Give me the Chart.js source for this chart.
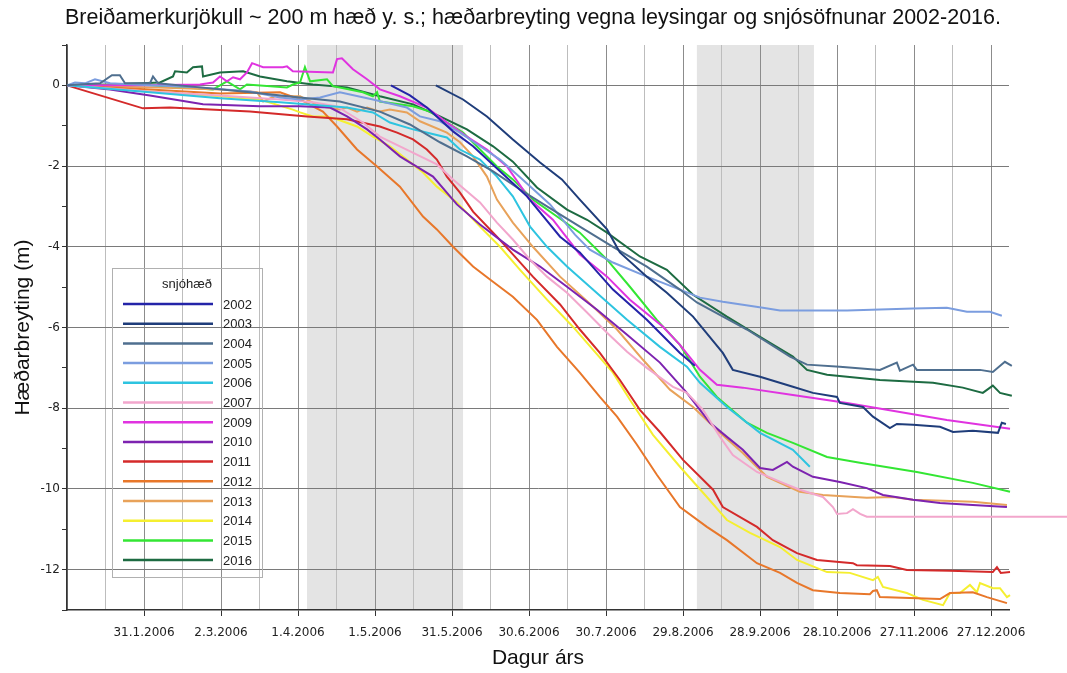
<!DOCTYPE html>
<html>
<head>
<meta charset="utf-8">
<script src="https://cdn.jsdelivr.net/npm/chart.js@4.4.1/dist/chart.umd.min.js"></script>
<style>
  html, body { margin: 0; padding: 0; background: #fff; }
</style>
</head>
<body>
<canvas id="c" width="1067" height="673"></canvas>
<script>
// Elevation change (m) at ~200 m a.s.l., day offset from 1 Jan (plotted on a 2006 calendar)
const years = ['2002', '2003', '2004', '2005', '2006', '2007', '2009', '2010', '2011', '2012', '2013', '2014', '2015', '2016'];
const colors = ['#2424a8', '#1f3d7a', '#4f6f8f', '#7b9ddf', '#2ec4e0', '#f2a6cc', '#e033e0',
                '#7d23b0', '#d42a2a', '#e8772a', '#e8a25a', '#f5ef30', '#33e633', '#1d6b42'];

const xTickLabels = ['31.1.2006', '2.3.2006', '1.4.2006', '1.5.2006', '31.5.2006', '30.6.2006',
                     '30.7.2006', '29.8.2006', '28.9.2006', '28.10.2006', '27.11.2006', '27.12.2006'];

// grey periods (day offsets)
const bandStart = [93.5, 245.4];
const bandEnd   = [154.3, 291.0];

// [day, metres]
const s2002 = [[126.2,0],[133.6,-0.25],[140.2,-0.55],[150.4,-1.14],[158.2,-1.51],[168.7,-2.13],[179.2,-2.75],
  [192.1,-3.75],[199.8,-4.14],[212.7,-5.06],[225.9,-5.81],[238.8,-6.63],[244.6,-6.95]];
const s2003 = [[143.7,0],[154.3,-0.35],[163.6,-0.77],[173.7,-1.34],[184.3,-1.91],[192.8,-2.33],[199.8,-2.83],
  [210.4,-3.57],[215.4,-4.14],[225.9,-4.74],[233.7,-5.14],[243.9,-5.73],[255.5,-6.63],[259.4,-7.05],[270,-7.22],
  [282.8,-7.47],[290.6,-7.62],[300,-7.72],[301.1,-7.87],[310.1,-7.97],[314,-8.21],[320.6,-8.49],[323.3,-8.39],
  [329.6,-8.41],[340.1,-8.46],[345.2,-8.59],[352.9,-8.56],[362.7,-8.61],[364.2,-8.36],[365.8,-8.39]];
const s2004 = [[0,0],[12.9,0.05],[17.5,0.25],[20.6,0.25],[22.6,0.05],[32.3,0.05],[33.5,0.22],[35.5,0.05],
  [51.8,-0.05],[71.3,-0.17],[90.8,-0.3],[106.3,-0.4],[121.9,-0.65],[133.6,-0.97],[145.3,-1.41],[155.8,-1.76],
  [166,-2.13],[176.5,-2.58],[187,-3.0],[199.8,-3.5],[212.7,-4.0],[225.9,-4.49],[238.8,-5.06],[245.4,-5.38],
  [264.9,-6.05],[281.7,-6.72],[288.3,-6.92],[301.1,-6.97],[316.7,-7.05],[323.3,-6.87],[324.5,-7.07],
  [329.6,-6.92],[331.1,-7.05],[355.7,-7.05],[360.7,-7.1],[365.4,-6.85],[368.1,-6.95]];
const s2005 = [[0,0],[3.1,0.07],[7,0.05],[10.9,0.15],[16.8,0.05],[32.3,0],[51.8,-0.05],[71.3,-0.15],[83,-0.3],
  [90.8,-0.35],[98.6,-0.3],[106.3,-0.17],[119.2,-0.35],[132.4,-0.55],[137.5,-0.77],[145.3,-0.89],[153.1,-1.17],
  [160.9,-1.51],[168.7,-1.84],[176.5,-2.28],[188.2,-2.95],[197.9,-3.7],[203.7,-4.07],[212.7,-4.39],
  [225.9,-4.74],[238.8,-5.06],[246.6,-5.26],[255.5,-5.36],[271.1,-5.51],[277.8,-5.58],[303.9,-5.58],
  [329.6,-5.53],[342.8,-5.51],[350.6,-5.61],[359.6,-5.61],[364.2,-5.71]];
const s2006 = [[0,0],[32.3,-0.17],[59.6,-0.32],[83,-0.42],[109.1,-0.55],[119.2,-0.67],[125.8,-0.92],
  [134.8,-1.09],[148,-1.29],[153.1,-1.59],[160.9,-1.84],[167.5,-2.26],[173.7,-2.75],[180.4,-3.5],[187,-4.0],
  [194.8,-4.49],[204.9,-5.06],[218.2,-5.81],[231,-6.48],[241.5,-6.97],[246.6,-7.37],[257.1,-7.97],
  [270,-8.61],[282.8,-9.03],[289.4,-9.45]];
const s2007 = [[0,0],[32.3,-0.15],[59.6,-0.25],[83,-0.35],[95.8,-0.42],[105.2,-0.52],[115.3,-0.92],
  [121.9,-1.27],[129.7,-1.51],[144.1,-1.96],[150.4,-2.33],[160.9,-2.9],[167.5,-3.4],[173.7,-3.82],
  [180.4,-4.32],[187,-4.74],[194.8,-5.14],[202.6,-5.63],[210.4,-6.13],[218.2,-6.6],[225.9,-7.0],
  [236.1,-7.47],[241.5,-7.62],[247.8,-8.04],[254.4,-8.71],[259.4,-9.16],[268.8,-9.58],[278.9,-9.85],
  [285.5,-10.02],[294.5,-10.2],[298.4,-10.45],[300,-10.62],[303.9,-10.6],[306.2,-10.5],[309,-10.62],
  [311.6,-10.69],[400,-10.69]];
const s2009 = [[0,0],[32.3,0],[51.8,0.02],[56.9,0.07],[59.6,0.22],[62.3,0.1],[64.7,0.2],[67.4,0.15],
  [70.1,0.32],[72.1,0.55],[76.4,0.45],[84.1,0.45],[85.7,0.47],[88,0.35],[103.6,0.32],[105.2,0.65],
  [107.1,0.67],[111.4,0.4],[116.9,0.15],[121.9,-0.1],[129.7,-0.27],[140.2,-0.55],[148,-0.92],[155.8,-1.27],
  [163.6,-1.59],[171.4,-2.01],[180.4,-2.83],[189.3,-3.33],[199.8,-4.19],[210.4,-4.74],[219.3,-5.31],
  [232.2,-5.98],[238.8,-6.43],[246.6,-7.05],[253.2,-7.42],[263.3,-7.49],[282.8,-7.67],[303.9,-7.87],
  [342.8,-8.29],[367.4,-8.51]];
const s2010 = [[0,0],[16.8,-0.1],[32.3,-0.25],[53,-0.47],[75.2,-0.52],[90.8,-0.52],[102.5,-0.55],
  [109.1,-0.77],[116.9,-1.09],[121.9,-1.34],[129.7,-1.76],[142.6,-2.26],[151.9,-2.95],[160.9,-3.45],
  [173.7,-4.07],[184.3,-4.49],[194.8,-4.99],[206.5,-5.56],[218.2,-6.18],[231,-6.87],[241.5,-7.62],
  [250.5,-8.36],[257.1,-8.71],[263.3,-9.03],[270,-9.48],[275,-9.53],[277.8,-9.43],[280.5,-9.33],
  [282.8,-9.45],[290.6,-9.7],[301.1,-9.83],[311.6,-9.98],[317.9,-10.15],[329.6,-10.27],[340.1,-10.35],
  [352.9,-10.4],[366.2,-10.45]];
const s2011 = [[0,0],[29.6,-0.57],[40.1,-0.55],[71.3,-0.65],[93.5,-0.77],[109.1,-0.84],[121.9,-1.02],
  [128.6,-1.17],[134.8,-1.34],[140.2,-1.59],[144.1,-1.84],[148,-2.26],[153.1,-2.66],[158.2,-3.13],
  [167.5,-3.75],[181.5,-4.74],[192.1,-5.43],[199.8,-6.05],[207.6,-6.63],[215.4,-7.3],[223.2,-8.04],
  [231,-8.59],[240,-9.28],[251.7,-10.02],[255.5,-10.45],[268.8,-10.94],[275,-11.27],[284.4,-11.59],
  [292.2,-11.76],[306.2,-11.84],[307.7,-11.89],[320.6,-11.91],[327.2,-12.01],[344,-12.03],[360.7,-12.06],
  [362.3,-11.94],[363.8,-12.08],[367.4,-12.06]];
const s2012 = [[0,0],[32.3,-0.1],[59.6,-0.2],[83,-0.17],[90.8,-0.35],[95.8,-0.52],[99.7,-0.65],[105.2,-1.02],
  [113,-1.59],[120.8,-2.01],[129.7,-2.51],[138.7,-3.25],[144.1,-3.57],[150.4,-4.0],[158.2,-4.49],
  [164.8,-4.81],[173.7,-5.24],[183.1,-5.81],[190.9,-6.48],[199.8,-7.12],[207.6,-7.72],[214.3,-8.21],
  [222,-8.9],[229.8,-9.65],[238.8,-10.45],[249.3,-10.94],[257.1,-11.27],[268.8,-11.84],[277.8,-12.08],
  [284.4,-12.33],[290.6,-12.51],[301.1,-12.58],[312.8,-12.61],[314,-12.53],[315.5,-12.51],[316.7,-12.68],
  [340.1,-12.73],[344,-12.58],[352.9,-12.56],[358.4,-12.68],[366.2,-12.83]];
const s2013 = [[0,0],[32.3,-0.05],[59.6,-0.1],[71.3,-0.15],[74,-0.17],[76.4,-0.4],[81,-0.27],[90.8,-0.27],
  [98.6,-0.52],[106.3,-0.6],[109.1,-0.55],[113,-0.65],[116.9,-0.55],[121.9,-0.65],[125.8,-0.6],
  [132.4,-0.67],[137.5,-0.89],[148,-1.17],[153.1,-1.41],[158.2,-1.76],[163.6,-2.26],[167.5,-2.83],
  [173.7,-3.4],[181.5,-4.0],[192.1,-4.74],[204.9,-5.48],[214.3,-6.05],[224.4,-6.8],[234.9,-7.54],
  [243.9,-7.97],[254.4,-8.61],[263.3,-9.11],[272.7,-9.7],[277.8,-9.85],[285.5,-10.07],[294.5,-10.15],
  [311.6,-10.22],[321.8,-10.2],[329.6,-10.27],[352.9,-10.32],[366.2,-10.4]];
const s2014 = [[0,0],[32.3,-0.15],[59.6,-0.27],[75.2,-0.35],[88,-0.6],[90.8,-0.67],[95.8,-0.77],
  [101.3,-0.77],[105.2,-0.84],[113,-1.02],[119.2,-1.27],[125.8,-1.51],[132.4,-1.84],[138.7,-2.16],
  [144.1,-2.51],[151.9,-2.9],[160.9,-3.5],[168.7,-4.0],[176.5,-4.57],[187,-5.31],[197.1,-5.98],
  [204.9,-6.55],[212.7,-7.12],[219.3,-7.79],[228.3,-8.66],[238.8,-9.45],[249.3,-10.2],[257.1,-10.77],
  [266.1,-11.09],[277.8,-11.44],[284.4,-11.76],[296.1,-12.06],[305,-12.08],[314,-12.26],[315.9,-12.18],
  [317.9,-12.43],[327.2,-12.58],[333.5,-12.75],[341.3,-12.88],[344,-12.58],[347.9,-12.58],[351.8,-12.38],
  [354.5,-12.56],[355.7,-12.33],[360.7,-12.46],[363.5,-12.46],[366.2,-12.68],[367.4,-12.63]];
const s2015 = [[0,0],[32.3,0],[56.9,-0.1],[62.3,0.1],[67.4,-0.1],[70.1,0.02],[85.7,-0.05],[88,0.02],
  [90.8,0.07],[92.7,0.45],[94.7,0.1],[101.3,0.15],[103.6,-0.02],[115.3,-0.17],[119.2,-0.27],[120.8,-0.17],
  [121.9,-0.4],[134.8,-0.52],[141.4,-0.65],[148,-0.92],[154.3,-1.17],[160.9,-1.59],[167.5,-2.01],
  [173.7,-2.33],[181.5,-2.83],[190.9,-3.25],[199.8,-3.65],[210.4,-4.32],[219.3,-4.99],[229.8,-5.81],
  [238.8,-6.43],[246.6,-7.22],[253.2,-7.72],[264.9,-8.36],[272.7,-8.61],[282.8,-8.86],[296.1,-9.21],
  [308.9,-9.35],[331.1,-9.58],[352.9,-9.85],[367.4,-10.07]];
const s2016 = [[0,0],[16.8,0.02],[36.2,0.07],[41.3,0.22],[42.1,0.35],[46.7,0.32],[49.1,0.45],[52.6,0.47],
  [53,0.22],[59.6,0.32],[68.6,0.35],[75.2,0.22],[85.7,0.1],[95.8,0.02],[109.1,-0.05],[121.9,-0.27],
  [134.8,-0.47],[145.3,-0.77],[155.8,-1.09],[166,-1.51],[173.7,-1.89],[183.1,-2.53],[194.8,-3.08],
  [202.6,-3.33],[210.4,-3.65],[223.2,-4.24],[233.7,-4.57],[243.9,-5.19],[257.1,-5.73],[270,-6.23],
  [282.8,-6.72],[288.3,-7.05],[296.1,-7.17],[316.7,-7.3],[337.4,-7.37],[349,-7.49],[356.8,-7.62],
  [360.7,-7.44],[363.5,-7.62],[368.1,-7.69]];

const series = [s2002, s2003, s2004, s2005, s2006, s2007, s2009, s2010, s2011, s2012, s2013, s2014, s2015, s2016];

const TITLE = 'Breiðamerkurjökull ~ 200 m hæð y. s.; hæðarbreyting vegna leysingar og snjósöfnunar 2002-2016.';

const bandsPlugin = {
  id: 'bands',
  beforeDraw(chart) {
    const { ctx, chartArea: a, scales: { x } } = chart;
    ctx.save();
    ctx.fillStyle = '#e4e4e4';
    bandStart.forEach((b0, i) => {
      const p0 = x.getPixelForValue(b0), p1 = x.getPixelForValue(bandEnd[i]);
      ctx.fillRect(p0, a.top, p1 - p0, a.bottom - a.top);
    });
    ctx.restore();
  },
};

const textPlugin = {
  id: 'texts',
  afterDraw(chart) {
    const ctx = chart.ctx;
    ctx.save();
    // title
    ctx.fillStyle = '#111';
    ctx.font = '21.5px "Liberation Sans", Arial, sans-serif';
    ctx.textAlign = 'center';
    ctx.textBaseline = 'middle';
    ctx.fillText(TITLE, 533, 18);

    // legend box (transparent, grid shows through)
    ctx.strokeStyle = '#b0b0b0';
    ctx.lineWidth = 1;
    ctx.strokeRect(112.5, 268.5, 150, 309);
    ctx.font = '13px "Liberation Sans", Arial, sans-serif';
    ctx.fillStyle = '#222';
    ctx.fillText('snjóhæð', 187, 284);
    ctx.textAlign = 'left';
    years.forEach((yr, i) => {
      const yy = 304 + i * 19.7;
      ctx.strokeStyle = colors[i];
      ctx.lineWidth = 2.5;
      ctx.beginPath();
      ctx.moveTo(123, yy);
      ctx.lineTo(213, yy);
      ctx.stroke();
      ctx.fillStyle = '#222';
      ctx.fillText(yr, 223, yy + 1);
    });
    ctx.restore();
  },
};

new Chart(document.getElementById('c'), {
  type: 'line',
  data: {
    datasets: series.map((s, i) => ({
      label: years[i],
      data: s.map(([x, y]) => ({ x, y })),
      borderColor: colors[i],
      backgroundColor: colors[i],
      borderWidth: 2,
      pointRadius: 0,
      tension: 0,
      fill: false,
      clip: false,
    })),
  },
  options: {
    responsive: false,
    animation: false,
    layout: { padding: { top: 45, right: 58, left: 0, bottom: 0 } },
    plugins: { legend: { display: false }, tooltip: { enabled: false } },
    scales: {
      x: {
        type: 'linear',
        min: 0,
        max: 367,
        afterFit: s => { s.height = 63; },
        border: { color: '#333', width: 1.5 },
        grid: {
          color: c => (c.tick && c.tick.value % 30 === 0 ? '#8c8c8c' : '#bdbdbd'),
          tickColor: c => (c.tick && c.tick.value % 30 === 0 && c.tick.value > 0 ? '#333' : 'rgba(0,0,0,0)'),
          tickLength: 6,
        },
        ticks: {
          stepSize: 15,
          includeBounds: false,
          autoSkip: false,
          maxRotation: 0,
          padding: 10,
          color: '#222',
          font: { family: 'DejaVu Sans', size: 12 },
          callback: v => (v % 30 === 0 && v > 0 ? xTickLabels[v / 30 - 1] : ''),
        },
        title: {
          display: true,
          text: 'Dagur árs',
          color: '#111',
          font: { family: 'Liberation Sans', size: 21 },
          padding: { top: 0, bottom: 2 },
        },
      },
      y: {
        min: -13,
        max: 1,
        afterFit: s => { s.width = 67; },
        border: { color: '#333', width: 1.5 },
        grid: {
          color: c => (c.tick && Math.round(c.tick.value) % 2 === 0 ? '#7a7a7a' : 'rgba(0,0,0,0)'),
          tickColor: '#333',
          tickLength: 5,
        },
        ticks: {
          stepSize: 1,
          padding: 2,
          color: '#222',
          font: { family: 'DejaVu Sans', size: 12 },
          callback: v => (Math.round(v) % 2 === 0 ? String(v) : ''),
        },
        title: {
          display: true,
          text: 'Hæðarbreyting (m)',
          color: '#111',
          font: { family: 'Liberation Sans', size: 21 },
          padding: { top: 11, bottom: 0 },
        },
      },
    },
  },
  plugins: [bandsPlugin, textPlugin],
});
</script>
</body>
</html>
